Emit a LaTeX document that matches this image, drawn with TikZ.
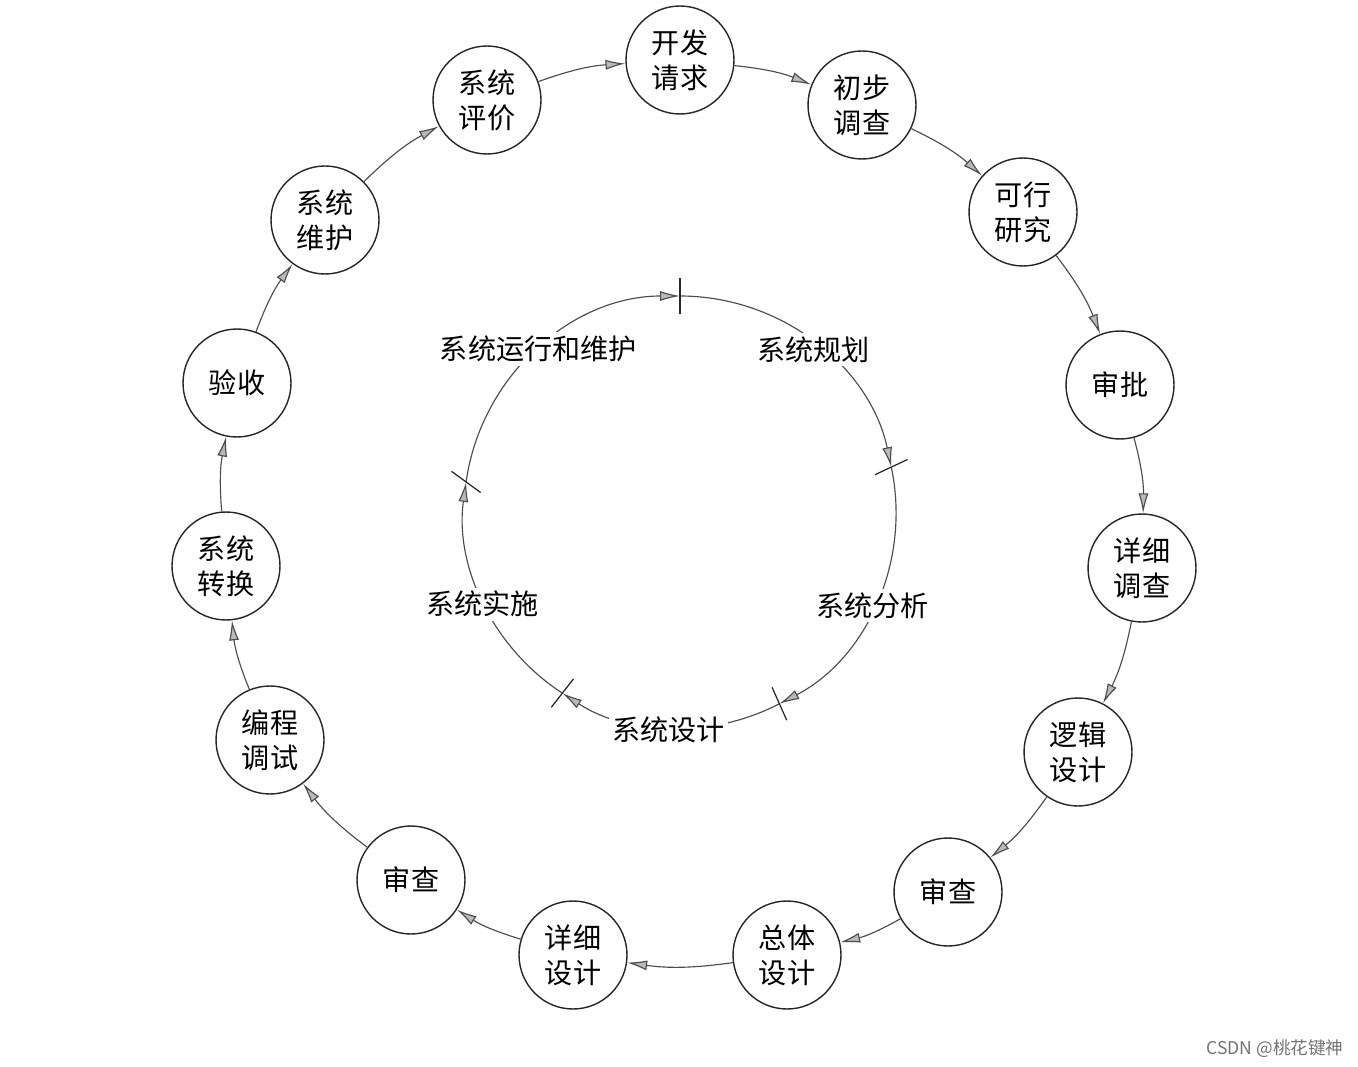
\documentclass[tikz,border=0pt]{standalone}
\usepackage{fontspec}
\setmainfont{Noto Sans CJK SC}
\usetikzlibrary{arrows.meta}
\begin{document}
\begin{tikzpicture}[x=0.02cm,y=0.02cm,
	stage/.style={circle,draw=black!85,line width=0.8pt,minimum size=2.16cm,inner sep=0pt,align=center,font=\fontsize{16}{20}\selectfont},
	flow/.style={draw=black!70,line width=0.65pt,-{Latex[length=4mm,width=2mm,color=black!70,fill=gray!55]}},
	phase/.style={fill=white,inner sep=2pt,font=\fontsize{16}{20}\selectfont},
	tick/.style={draw=black!85,line width=0.7pt}]
	\useasboundingbox (0,0) rectangle (1358,-1067);
	\node[stage] (kf) at (680,-60) {开发\\请求};
	\node[stage] (cb) at (862,-105) {初步\\调查};
	\node[stage] (kx) at (1023,-212) {可行\\研究};
	\node[stage] (sp) at (1120,-385) {审批};
	\node[stage] (xd) at (1142,-568) {详细\\调查};
	\node[stage] (lj) at (1078,-752) {逻辑\\设计};
	\node[stage] (scr) at (948,-892) {审查};
	\node[stage] (zt) at (787,-955) {总体\\设计};
	\node[stage] (xs) at (573,-955) {详细\\设计};
	\node[stage] (scl) at (411,-880) {审查};
	\node[stage] (bc) at (270,-740) {编程\\调试};
	\node[stage] (zh) at (226,-566) {系统\\转换};
	\node[stage] (ys) at (237,-383) {验收};
	\node[stage] (wh) at (325,-220) {系统\\维护};
	\node[stage] (pj) at (487,-100) {系统\\评价};
	\foreach \a/\b in {pj/kf,kf/cb,cb/kx,kx/sp,sp/xd,xd/lj,lj/scr,scr/zt,zt/xs,xs/scl,scl/bc,bc/zh,zh/ys,ys/wh,wh/pj}
		\draw[flow] (\a) to[bend left=8] (\b);
	\begin{scope}[shift={(680,-512)}]
		\draw[flow] (172:216) arc[start angle=172,end angle=90,radius=216];
		\draw[flow] (90:216) arc[start angle=90,end angle=12,radius=216];
		\draw[flow] (12:216) arc[start angle=12,end angle=-62.6,radius=216];
		\draw[flow] (-62.6:216) arc[start angle=-62.6,end angle=-123,radius=216];
		\draw[flow] (-123:216) arc[start angle=-123,end angle=-188,radius=216];
		\foreach \t/\d in {90/90,12/25,-62.6/-66,-123/52,172/-36}
			\draw[tick] (\t:216) ++(\d:18) -- ++(\d+180:36);
		\node[phase] (yx) at (131:216) {系统运行和维护};
		\node[phase] (gh) at (50.5:210) {系统规划};
		\node[phase] (fx) at (-26:214) {系统分析};
		\node[phase] (sj) at (-93:218) {系统设计};
		\node[phase] (ss) at (-155:218) {系统实施};
	\end{scope}
	\node[text=black!55,font=\fontsize{10}{12}\selectfont] (wm) at (1275,-1049) {CSDN @桃花键神};
\end{tikzpicture}
\end{document}
